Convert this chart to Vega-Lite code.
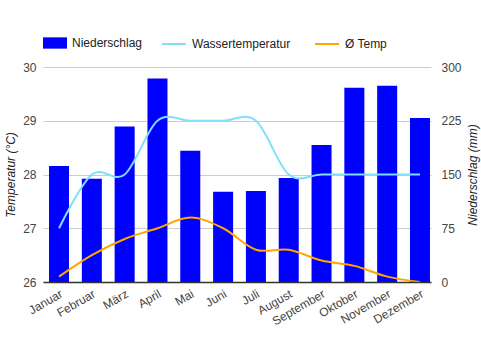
{
  "$schema": "https://vega.github.io/schema/vega-lite/v6.json",
  "width": 388,
  "height": 215,
  "autosize": {"type": "none"},
  "padding": {"left": 43, "top": 67, "right": 50, "bottom": 68},
  "background": "white",
  "config": {
    "font": "Liberation Sans",
    "view": {"stroke": null},
    "axis": {
      "labelFont": "Liberation Sans",
      "titleFont": "Liberation Sans",
      "labelFontSize": 12,
      "titleFontSize": 12,
      "labelColor": "#444444",
      "titleColor": "#222222",
      "titleFontWeight": "normal",
      "titleFontStyle": "italic"
    },
    "legend": {
      "labelFont": "Liberation Sans",
      "labelFontSize": 12,
      "labelColor": "#222222"
    }
  },
  "data": {
    "values": [
      {"Monat": "Januar", "Niederschlag": 162, "Wassertemperatur": 27, "Ø Temp": 26.1},
      {"Monat": "Februar", "Niederschlag": 144, "Wassertemperatur": 28, "Ø Temp": 26.5},
      {"Monat": "März", "Niederschlag": 217, "Wassertemperatur": 28, "Ø Temp": 26.8},
      {"Monat": "April", "Niederschlag": 284, "Wassertemperatur": 29, "Ø Temp": 27.0},
      {"Monat": "Mai", "Niederschlag": 183, "Wassertemperatur": 29, "Ø Temp": 27.2},
      {"Monat": "Juni", "Niederschlag": 126, "Wassertemperatur": 29, "Ø Temp": 27.0},
      {"Monat": "Juli", "Niederschlag": 127, "Wassertemperatur": 29, "Ø Temp": 26.6},
      {"Monat": "August", "Niederschlag": 145, "Wassertemperatur": 28, "Ø Temp": 26.6},
      {"Monat": "September", "Niederschlag": 191, "Wassertemperatur": 28, "Ø Temp": 26.4},
      {"Monat": "Oktober", "Niederschlag": 271, "Wassertemperatur": 28, "Ø Temp": 26.3},
      {"Monat": "November", "Niederschlag": 274, "Wassertemperatur": 28, "Ø Temp": 26.1},
      {"Monat": "Dezember", "Niederschlag": 229, "Wassertemperatur": 28, "Ø Temp": 26.0}
    ]
  },
  "encoding": {
    "x": {
      "field": "Monat",
      "type": "nominal",
      "sort": null,
      "scale": {"paddingInner": 0.39, "paddingOuter": 0.107, "align": 0.857},
      "axis": {
        "title": null,
        "labelAngle": -30,
        "ticks": false,
        "domainColor": "#333333",
        "domainWidth": 1.5,
        "labelPadding": 6,
        "zindex": 1
      }
    }
  },
  "layer": [
    {
      "mark": {"type": "bar", "color": "#0000ff"},
      "encoding": {
        "y": {
          "field": "Niederschlag",
          "type": "quantitative",
          "scale": {"domain": [0, 300]},
          "axis": {
            "orient": "right",
            "values": [0, 75, 150, 225, 300],
            "title": "Niederschlag (mm)",
            "titleAngle": 270,
            "titleBaseline": "top",
            "grid": false,
            "ticks": false,
            "domain": false,
            "labelPadding": 10,
            "titlePadding": 6
          }
        },
        "fill": {
          "datum": "Niederschlag",
          "scale": {"range": ["#0000ff"]},
          "legend": {
            "orient": "none",
            "legendX": 0,
            "legendY": -36,
            "title": null,
            "symbolType": "M-1,-0.47H1V0.47H-1Z",
            "symbolSize": 576,
            "symbolStrokeWidth": 0,
            "labelOffset": 5
          }
        }
      }
    },
    {
      "transform": [{"fold": ["Wassertemperatur", "Ø Temp"], "as": ["Reihe", "Temp"]}],
      "mark": {"type": "line", "interpolate": "cardinal", "strokeWidth": 2},
      "encoding": {
        "y": {
          "field": "Temp",
          "type": "quantitative",
          "scale": {"domain": [26, 30]},
          "axis": {
            "orient": "left",
            "values": [26, 27, 28, 29, 30],
            "format": "d",
            "title": "Temperatur (°C)",
            "grid": true,
            "gridColor": "#cccccc",
            "ticks": false,
            "domain": false,
            "labelPadding": 7,
            "titlePadding": 5
          }
        },
        "stroke": {
          "field": "Reihe",
          "type": "nominal",
          "scale": {"domain": ["Wassertemperatur", "Ø Temp"], "range": ["#80dfff", "#ffa500"]},
          "legend": {
            "orient": "none",
            "legendX": 118,
            "legendY": -36,
            "direction": "horizontal",
            "title": null,
            "symbolType": "stroke",
            "symbolSize": 576,
            "symbolStrokeWidth": 2,
            "labelOffset": 5,
            "columnPadding": 20
          }
        }
      }
    }
  ],
  "resolve": {"scale": {"y": "independent"}}
}
